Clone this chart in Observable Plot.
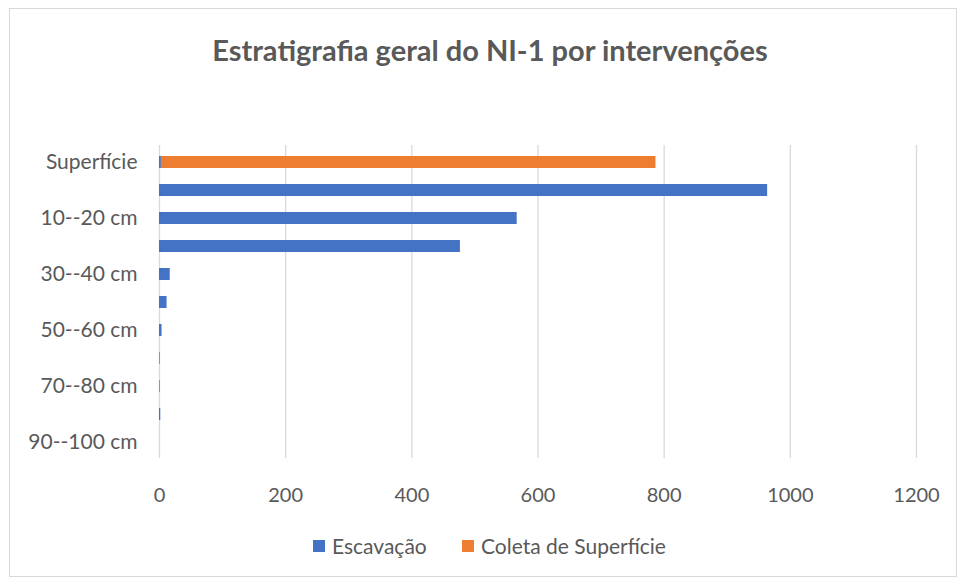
<!DOCTYPE html>
<html>
<head>
<meta charset="utf-8">
<script src="https://cdn.jsdelivr.net/npm/d3@7"></script>
<script src="https://cdn.jsdelivr.net/npm/@observablehq/plot@0.6"></script>
<style>
  body { margin: 0; background: #fff; font-family: Lato, "Open Sans", sans-serif; }
  #wrap { position: relative; width: 960px; height: 579px; overflow: hidden; background: #fff; }
  #frame { position: absolute; left: 9px; top: 8px; width: 948px; height: 569px; border: 1px solid #d9d9d9; box-sizing: border-box; }
  #title { position: absolute; left: 0; width: 980px; top: 32px; text-align: center; font-weight: bold; font-size: 29px; color: #595959; line-height: 36px; }
  #chart { position: absolute; left: 0; top: 120px; }
  #legend { position: absolute; left: 0; top: 533px; width: 960px; height: 26px; font-size: 21px; color: #595959; }
  .sw { position: absolute; width: 12px; height: 12px; top: 7px; }
  .lt { position: absolute; top: 0; line-height: 26px; white-space: nowrap; }
</style>
</head>
<body>
<div id="wrap">
  <div id="frame"></div>
  <div id="title">Estratigrafia geral do NI-1 por intervenções</div>
  <div id="chart"></div>
  <div id="legend"></div>
</div>
<script>
const categories = ["Superfície","0--10 cm","10--20 cm","20--30 cm","30--40 cm","40--50 cm","50--60 cm","60--70 cm","70--80 cm","80--90 cm","90--100 cm"];
const shownLabels = ["Superfície","10--20 cm","30--40 cm","50--60 cm","70--80 cm","90--100 cm"];
const seriesNames = ["Escavação","Coleta de Superfície"];
const seriesColors = ["#4472C4","#ED7D31"];
const escavacao = [3, 964, 567, 477, 17, 12, 4, 1, 1, 2, 0];
const coleta = [784, 0, 0, 0, 0, 0, 0, 0, 0, 0, 0];
const xTicks = [0, 200, 400, 600, 800, 1000, 1200];

const rows = [];
categories.forEach((c, i) => {
  rows.push({cat: c, series: seriesNames[0], value: escavacao[i]});
  rows.push({cat: c, series: seriesNames[1], value: coleta[i]});
});

const plot = Plot.plot({
  width: 960,
  height: 400,
  marginLeft: 159,
  marginRight: 44,
  marginTop: 25,
  marginBottom: 62,
  style: { fontFamily: "Lato, 'Open Sans', sans-serif", fontSize: "20px", color: "#595959", background: "transparent" },
  x: { domain: [0, 1200], ticks: xTicks, label: null },
  y: { domain: categories, paddingInner: 0.58, paddingOuter: 0.29, align: 0.5, label: null },
  color: { domain: seriesNames, range: seriesColors },
  marks: [
    Plot.ruleX(xTicks, { stroke: "#d9d9d9", strokeWidth: 1.3 }),
    Plot.barX(rows, Plot.stackX({ x: "value", y: "cat", fill: "series", order: seriesNames })),
    Plot.axisX({ ticks: xTicks, tickFormat: d => String(d), tickSize: 0, tickPadding: 29, fill: "#595959", fontSize: 20, label: null }),
    Plot.axisY({ ticks: shownLabels, tickSize: 0, tickPadding: 22, fill: "#595959", fontSize: 21, label: null })
  ]
});
document.getElementById("chart").appendChild(plot);

const legend = document.getElementById("legend");
const legendX = [313, 462];
seriesNames.forEach((n, i) => {
  const sw = document.createElement("span");
  sw.className = "sw";
  sw.style.left = legendX[i] + "px";
  sw.style.background = seriesColors[i];
  legend.appendChild(sw);
  const t = document.createElement("span");
  t.className = "lt";
  t.style.left = (legendX[i] + 19) + "px";
  t.textContent = n;
  legend.appendChild(t);
});
</script>
</body>
</html>
